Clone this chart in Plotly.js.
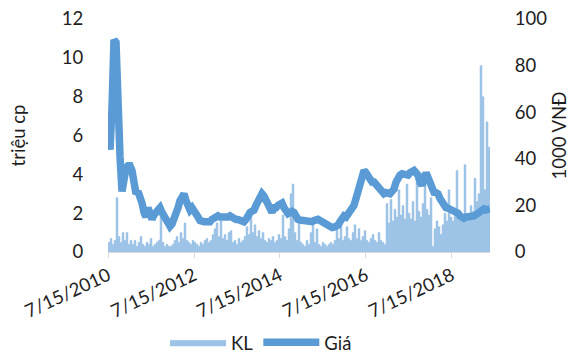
<!DOCTYPE html>
<html>
<head>
<meta charset="utf-8">
<script src="https://cdn.plot.ly/plotly-3.0.1.min.js"></script>
<style>
  html, body { margin: 0; padding: 0; background: #fff; }
  #chart { width: 570px; height: 356px; }
</style>
</head>
<body>
<div id="chart"></div>
<script>
// Sampling grid: one observation every 17 days from the listing date
const seriesStart = '2010-07-15';
const stepDays = 17;

// Trading volume (million shares)
const volume = [
  0.5, 0.7, 0.4, 0.6, 2.8, 0.8, 0.5, 1.0, 0.6, 1.0, 0.4, 0.6,
  0.4, 0.6, 0.3, 0.5, 0.8, 0.4, 0.3, 0.5, 0.4, 0.7, 0.3, 0.4, 0.5, 0.6, 2.3, 0.5,
  0.3, 0.4, 0.3, 0.3, 0.4, 0.6, 0.8, 0.5, 1.0, 0.7, 1.5, 0.6, 0.5, 0.4, 0.6, 0.5,
  0.4, 0.3, 0.5, 0.4, 0.6,
  0.7, 0.5, 0.6, 0.9, 1.2, 1.5, 0.8, 1.6, 0.7, 0.9, 0.6, 1.0, 1.1, 0.5, 0.6, 0.4,
  0.7, 0.5, 0.6, 0.8, 1.3, 0.9, 2.0, 1.0, 1.4, 0.8, 1.1, 0.7, 1.0, 0.6, 0.5, 0.7,
  0.6, 0.8, 0.5, 0.6, 0.9, 0.7, 1.9, 0.8, 0.6, 1.2, 3.0, 3.5, 1.0, 0.6, 1.5, 0.5,
  0.4, 0.3, 0.6, 0.4, 1.0, 1.4, 0.5, 1.2, 0.4, 0.3, 0.5, 0.4, 0.3, 0.4, 0.5, 0.4,
  0.6, 1.2, 0.7, 1.5, 0.6, 0.8, 1.3, 0.7, 0.6, 1.0, 1.4, 0.7, 1.2, 0.6, 0.8, 1.1,
  0.6, 0.5, 0.7, 0.9, 0.6, 0.5, 1.0, 0.6, 0.5, 0.4,
  2.5, 1.5, 2.7, 1.6, 2.2, 1.8, 3.2, 1.9, 2.4, 1.7, 3.5, 2.0, 1.7, 2.6, 1.6, 3.8,
  2.1, 1.8, 2.5, 4.0, 2.2, 1.9, 2.8,
  0.3, 1.2, 1.6, 1.3, 0.9, 1.4, 2.0, 1.6, 3.2, 1.8, 1.6, 2.2, 4.2, 1.8, 2.0, 1.9,
  4.5, 2.0, 1.8, 2.4, 2.1, 3.8, 2.6, 3.0, 9.6, 8.0, 3.2, 6.7, 5.4, 3.6
];

// Closing price (thousand VND)
const price = [
  50, 44, 62, 91, 90, 53, 41, 26, 32, 36, 37, 37,
  35, 28, 25, 26, 24, 21, 17, 15, 19, 17, 14, 16, 17, 18, 19, 17,
  15, 14, 12, 11, 12, 14, 15, 19, 22, 24, 25, 22, 19, 18, 19, 18,
  16, 15, 13.5, 13, 13,
  13, 13, 13, 14, 14.5, 15, 15.5, 15, 15, 14.5, 14.5, 15, 15.5, 15, 14, 14,
  14, 13.7, 13.5, 13, 14, 16.5, 17, 17.5, 18, 20, 22, 24, 25, 24, 22, 20,
  17, 17, 19, 19, 20, 21, 21, 19, 17, 16.5, 17, 17.5, 17, 15, 14, 13.7,
  13.5, 13.3, 13, 13, 12.8, 13, 13.5, 14, 14, 13.5, 13, 12.5, 12, 11, 10.7, 10.5,
  10.7, 11, 11.5, 13, 15, 15.5, 15, 16, 17, 18, 20, 23, 26, 28, 32, 35,
  34, 32, 31, 30, 30, 29, 28, 27, 25.6, 25,
  25.5, 25.5, 25, 26, 27, 30, 32, 33, 33.6, 33.5, 33, 33, 34, 35, 35, 34,
  33, 30, 28.6, 31, 34, 32, 29.5,
  27, 25.6, 25.5, 25, 23, 21, 20, 19, 18.8, 18.5, 18, 18, 17.5, 16.7, 15.5, 14.8,
  14.5, 15, 15, 14.8, 15, 15.5, 16, 16.7, 18, 18.8, 18.5, 18, 18.2, 18.5
];

// Axis tick labels
const xTickVals = ['2010-07-15', '2012-07-15', '2014-07-15', '2016-07-15', '2018-07-15'];
const xTickText = ['7/15/2010', '7/15/2012', '7/15/2014', '7/15/2016', '7/15/2018'];
const volTicks = [0, 2, 4, 6, 8, 10, 12];
const priceTicks = [0, 20, 40, 60, 80, 100];

function isoDay(d) {
  return d.toISOString().slice(0, 10);
}
const t0 = new Date(seriesStart + 'T00:00:00Z');
const dates = volume.map((_, i) => isoDay(new Date(t0.getTime() + i * stepDays * 86400000)));

const FONT = 'Lato, "Open Sans", sans-serif';
const FS = 18.5;
const TXT = '#1e1e1e';

const traces = [
  {
    type: 'scatter',
    mode: 'lines',
    name: 'KL',
    x: dates,
    y: volume,
    xaxis: 'x',
    yaxis: 'y',
    fill: 'tozeroy',
    fillcolor: '#9dc3e6',
    line: { color: '#9dc3e6', width: 0.5, shape: 'hv' },
    hoverinfo: 'skip'
  },
  {
    type: 'scatter',
    mode: 'lines',
    name: 'Giá',
    x: dates,
    y: price,
    xaxis: 'x',
    yaxis: 'y2',
    line: { color: '#5b9bd5', width: 7.5, shape: 'linear' },
    hoverinfo: 'skip'
  }
];

const layout = {
  width: 570,
  height: 356,
  paper_bgcolor: '#ffffff',
  plot_bgcolor: '#ffffff',
  margin: { l: 108, r: 80, t: 19, b: 104, pad: 0 },
  font: { family: FONT, size: FS, color: TXT },
  showlegend: true,
  legend: {
    orientation: 'h',
    xref: 'container', x: 0.458, xanchor: 'center',
    yref: 'container', y: 0.037, yanchor: 'middle',
    font: { family: FONT, size: FS, color: TXT },
    itemwidth: 56,
    traceorder: 'normal',
    bgcolor: 'rgba(0,0,0,0)'
  },
  xaxis: {
    type: 'date',
    range: [dates[0], dates[dates.length - 1]],
    tickmode: 'array',
    tickvals: xTickVals,
    ticktext: xTickText,
    tickangle: -25,
    showgrid: false,
    zeroline: false,
    showline: true,
    linecolor: '#d9d9d9',
    linewidth: 1,
    ticks: 'outside',
    ticklen: 5,
    tickcolor: '#d9d9d9',
    automargin: false,
    tickfont: { family: FONT, size: FS, color: TXT }
  },
  yaxis: {
    range: [0, 12],
    tickmode: 'array',
    tickvals: volTicks,
    showgrid: false,
    zeroline: false,
    showline: false,
    ticks: 'outside',
    ticklen: 20,
    tickcolor: 'rgba(0,0,0,0)',
    automargin: false,
    tickfont: { family: FONT, size: FS, color: TXT },
    title: { text: 'triệu cp', font: { family: FONT, size: FS, color: TXT }, standoff: 31 }
  },
  yaxis2: {
    overlaying: 'y',
    side: 'right',
    range: [0, 100],
    tickmode: 'array',
    tickvals: priceTicks,
    showgrid: false,
    zeroline: false,
    showline: false,
    ticks: 'outside',
    ticklen: 20,
    tickcolor: 'rgba(0,0,0,0)',
    automargin: false,
    tickfont: { family: FONT, size: FS, color: TXT },
    title: { text: '1000 VNĐ', font: { family: FONT, size: FS, color: TXT }, standoff: 21 }
  }
};

Plotly.newPlot('chart', traces, layout, { staticPlot: true, displayModeBar: false });
</script>
</body>
</html>
